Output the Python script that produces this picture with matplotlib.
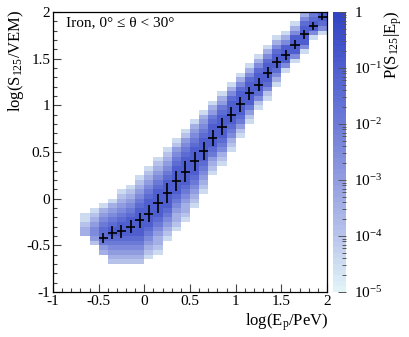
import numpy as np
import matplotlib
matplotlib.use('Agg')
import matplotlib.pyplot as plt
from matplotlib.colors import LogNorm, LinearSegmentedColormap
from matplotlib.ticker import MultipleLocator, LogLocator

plt.rcParams['font.family'] = ['Liberation Serif', 'DejaVu Serif']
plt.rcParams['mathtext.fontset'] = 'custom'
plt.rcParams['mathtext.rm'] = 'Liberation Serif'
plt.rcParams['mathtext.it'] = 'Liberation Serif:italic'
plt.rcParams['font.size'] = 11
plt.rcParams['axes.unicode_minus'] = False

# profile (mean log S125 per energy bin)
e_centers = [-0.45, -0.35, -0.25, -0.15, -0.05, 0.05, 0.15, 0.25, 0.35, 0.45,
             0.55, 0.65, 0.75, 0.85, 0.95, 1.05, 1.15, 1.25, 1.35, 1.45,
             1.55, 1.65, 1.75, 1.85, 1.95]
s_mean = [-0.42, -0.365, -0.35, -0.30, -0.23, -0.16, -0.05, 0.06, 0.19, 0.29,
          0.40, 0.51, 0.65, 0.77, 0.90, 1.01, 1.13, 1.22, 1.35, 1.46,
          1.54, 1.65, 1.76, 1.85, 1.95]
s_err = [0.05, 0.07, 0.07, 0.07, 0.08, 0.09, 0.10, 0.11, 0.11, 0.11,
         0.10, 0.10, 0.09, 0.09, 0.08, 0.08, 0.07, 0.07, 0.06, 0.06,
         0.05, 0.05, 0.05, 0.04, 0.035]

# 2D histogram P(S125|Ep): per energy column, lowest filled logS bin and
# levels from bottom to top (digit d -> P = 10^(-d/2))
col_centers = [-0.65, -0.55, -0.45, -0.35, -0.25, -0.15, -0.05, 0.05, 0.15,
               0.25, 0.35, 0.45, 0.55, 0.65, 0.75, 0.85, 0.95, 1.05, 1.15,
               1.25, 1.35, 1.45, 1.55, 1.65, 1.75, 1.85, 1.95]
col_low = [-0.40, -0.50, -0.60, -0.70, -0.70, -0.70, -0.70, -0.65, -0.60,
           -0.45, -0.35, -0.25, -0.10, 0.05, 0.25, 0.35, 0.50, 0.65, 0.80,
           0.95, 1.05, 1.20, 1.35, 1.45, 1.55, 1.70, 1.75]
col_levels = [
    "77899",
    "86556789",
    "76433345679",
    "87654322345679",
    "8765432223456789",
    "87654322223456789",
    "8765432222223456789",
    "98765432222223456789",
    "987765432222223456789",
    "98765432222223456789",
    "98776543222222345689",
    "98776543222222345689",
    "9876543222222345679",
    "987654322222345679",
    "9876432222234679",
    "9875432222234679",
    "987543222223579",
    "98643222223579",
    "9864222223579",
    "985322223579",
    "985322223579",
    "97532223579",
    "952222579",
    "952222579",
    "952222357",
    "952234",
    "95322",
]

x_edges = np.linspace(-0.7, 2.0, 28)
y_edges = np.linspace(-0.7, 2.0, 55)
Z = np.full((len(y_edges) - 1, len(x_edges) - 1), np.nan)
for j, (lo, lev) in enumerate(zip(col_low, col_levels)):
    i0 = int(round((lo + 0.7) / 0.05))
    for k, ch in enumerate(lev):
        Z[i0 + k, j] = 10 ** (-int(ch) / 2.0)

cmap = LinearSegmentedColormap.from_list(
    'root_blue', ['#e2f3f7', '#b8c3eb', '#919de0', '#6e7cd8', '#5060cf', '#3344c4'], N=50)

fig = plt.figure(figsize=(4.09, 3.37), dpi=100)
ax = fig.add_axes([53/409, 45/337, 274/409, 280/337])
pc = ax.pcolormesh(x_edges, y_edges, np.ma.masked_invalid(Z), cmap=cmap,
                   norm=LogNorm(1e-5, 1))
ax.errorbar(e_centers, s_mean, xerr=0.05, yerr=s_err, fmt='none',
            ecolor='black', elinewidth=1.2, capsize=0)

ax.set_xlim(-1, 2)
ax.set_ylim(-1, 2)
ticks = [-1, -0.5, 0, 0.5, 1, 1.5, 2]
labels = ['-1', '-0.5', '0', '0.5', '1', '1.5', '2']
ax.set_xticks(ticks)
ax.set_xticklabels(labels)
ax.set_yticks(ticks)
ax.set_yticklabels(labels)
ax.xaxis.set_minor_locator(MultipleLocator(0.1))
ax.yaxis.set_minor_locator(MultipleLocator(0.1))
ax.tick_params(which='both', direction='in', top=False, right=False,
               color='#444444', width=0.8)
ax.tick_params(which='major', length=6)
ax.tick_params(which='minor', length=3)
ax.tick_params(axis='x', pad=2.5)
ax.tick_params(axis='y', pad=2)
for sp in ax.spines.values():
    sp.set_linewidth(0.9)

ax.text(0.047, 0.962, 'Iron, 0° ≤ θ < 30°', transform=ax.transAxes,
        ha='left', va='center', fontsize=11)

fig.text(16/409, 1 - 10/337, r'log(S$_{125}$/VEM)', rotation=90,
         ha='center', va='top', fontsize=12)
fig.text(328/409, 1 - 311/337, r'log(E$_\mathrm{p}$/PeV)',
         ha='right', va='top', fontsize=12)

cax = fig.add_axes([333/409, 45/337, 13/409, 280/337])
cb = fig.colorbar(pc, cax=cax)
cb.outline.set_visible(False)
cb.set_ticks([1e-5, 1e-4, 1e-3, 1e-2, 1e-1, 1])
cb.set_ticklabels([r'10$^{-5}$', r'10$^{-4}$', r'10$^{-3}$', r'10$^{-2}$',
                   r'10$^{-1}$', '1'])
cax.yaxis.set_minor_locator(LogLocator(base=10, subs=np.arange(2, 10)))
cax.tick_params(which='both', direction='in', color='#555555', width=0.7)
cax.tick_params(which='major', length=6, labelsize=11, pad=6)
cax.tick_params(which='minor', length=3)
fig.text(393/409, 1 - 10/337, r'P(S$_{125}$|E$_\mathrm{p}$)', rotation=90,
         ha='center', va='top', fontsize=12)

fig.savefig('out.png', dpi=100)
